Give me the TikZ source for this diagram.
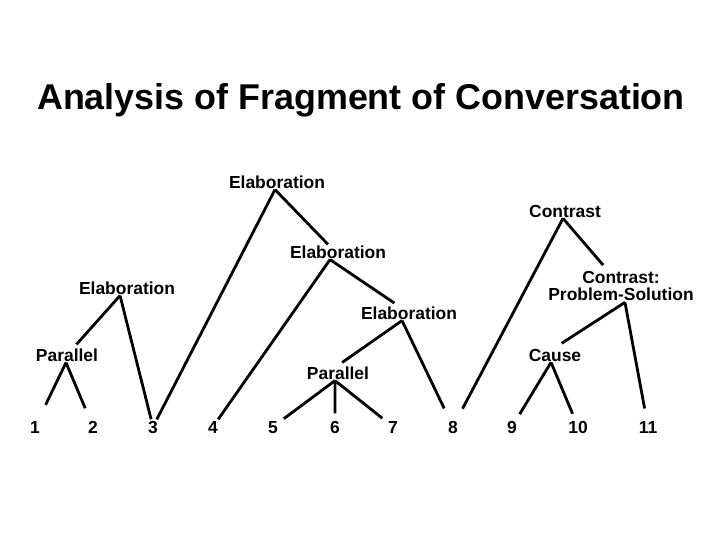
\documentclass[tikz,border=0pt]{standalone}
\usepackage{fontspec}
\setsansfont{Liberation Sans}
\begin{document}
\begin{tikzpicture}[
		x=1bp, y=-1bp,
		font=\sffamily,
		every node/.style={
				font=\sffamily\bfseries\fontsize{17.5}{18}\selectfont,
				inner sep=1bp,
			},
		leaf/.style={anchor=base, text height=12.5bp, text depth=0pt},
		edge/.style={line width=2.8bp},
	]
	\useasboundingbox (0,0) rectangle (720,540);
	\node (title) at (361,100) {\fontsize{36}{40}\selectfont Analysis of Fragment of Conversation};
	% segments
	\foreach \x [count=\i] in {35,93,153,213,273,335,393,453,512,578,648} {
			\node[leaf] (n\i) at (\x,433) {\i};
		}
	% relations
	\node (elabA) at (277,182) {Elaboration};
	\node (contr) at (565,211) {Contrast};
	\node (elabB) at (338,252) {Elaboration};
	\node (elabC) at (127,288) {Elaboration};
	\node[align=center] (probsol) at (621,286) {Contrast:\\Problem-Solution};
	\node (elabD) at (409,313) {Elaboration};
	\node (parA) at (67,355) {Parallel};
	\node (cause) at (555,355) {Cause};
	\node (parB) at (338,373) {Parallel};

	\draw[edge] ([xshift=-2]elabA.south) -- (n3);
	\draw[edge] ([xshift=-2]elabA.south) -- ([xshift=-10]elabB.north);
	\draw[edge] ([xshift=-8]elabB.south) -- (n4);
	\draw[edge, shorten >=4bp] ([xshift=-8]elabB.south) -- (elabD);
	\draw[edge, shorten >=4bp] ([xshift=-7]elabC.south) -- (parA);
	\draw[edge] ([xshift=-7]elabC.south) -- (n3);
	\draw[edge, shorten >=16bp] ([xshift=-1]parA.south) -- (n1);
	\draw[edge, shorten >=12bp] ([xshift=-1]parA.south) -- (n2);
	\draw[edge, shorten >=5bp] ([xshift=-7]elabD.south) -- (parB.north);
	\draw[edge, shorten >=12bp] ([xshift=-7]elabD.south) -- (n8);
	\draw[edge, shorten >=6bp] ([xshift=-3]parB.south) -- (n5);
	\draw[edge, shorten >=6bp] ([xshift=-3]parB.south) -- (n6);
	\draw[edge, shorten >=6bp] ([xshift=-3]parB.south) -- (n7);
	\draw[edge, shorten >=12bp] ([xshift=-2]contr.south) -- (n8);
	\draw[edge, shorten >=6bp] ([xshift=-2]contr.south) -- ([xshift=-14]probsol.north);
	\draw[edge, shorten >=8bp] ([xshift=4]probsol.south) -- (cause.north);
	\draw[edge, shorten >=11bp] ([xshift=4]probsol.south) -- (n11);
	\draw[edge, shorten >=6bp] ([xshift=-4]cause.south) -- (n9);
	\draw[edge, shorten >=6bp] ([xshift=-4]cause.south) -- (n10);
\end{tikzpicture}
\end{document}
